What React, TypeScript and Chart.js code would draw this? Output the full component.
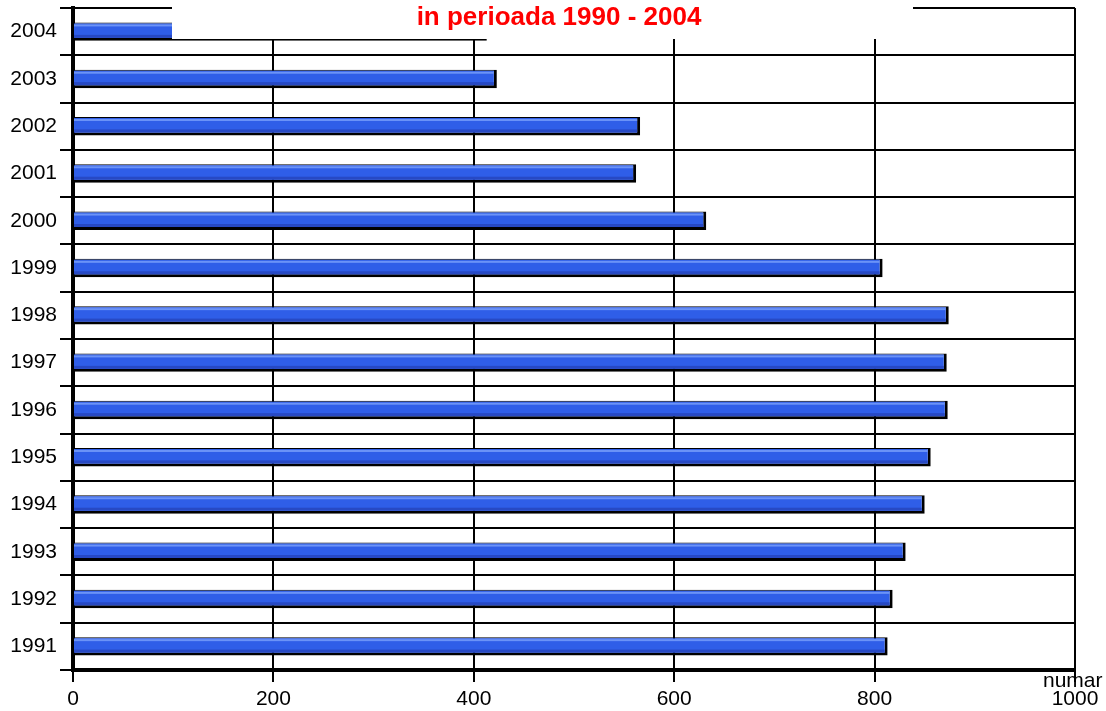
import React, { useEffect, useRef } from "react";
import { Chart, registerables } from "chart.js";

Chart.register(...registerables);

const years = ["1991", "1992", "1993", "1994", "1995", "1996", "1997", "1998", "1999", "2000", "2001", "2002", "2003", "2004"];
const values = [813, 818, 831, 850, 856, 873, 872, 874, 808, 632, 562, 566, 423, 413];
const xTicks = [0, 200, 400, 600, 800, 1000];
const titleText = "in perioada 1990 - 2004";
const axisLabel = "numar";

const FONT = "'Liberation Sans', Arial, sans-serif";

const barShine = {
  id: "barShine",
  afterDatasetsDraw(chart: any) {
    const ctx = chart.ctx;
    const meta = chart.getDatasetMeta(0);
    ctx.save();
    meta.data.forEach((el: any) => {
      const p = el.getProps(["x", "y", "base", "height"], true);
      const left = Math.min(p.base, p.x);
      const w = Math.abs(p.x - p.base) - 3;
      const top = p.y - p.height / 2;
      ctx.fillStyle = "#6b93f7";
      ctx.fillRect(left, top + 2, w, 2);
      ctx.fillStyle = "#2749c4";
      ctx.fillRect(left, top + p.height - 6, w, 3);
    });
    ctx.restore();
  },
};

const titleBox = {
  id: "titleBox",
  afterDraw(chart: any) {
    const ctx = chart.ctx;
    ctx.save();
    ctx.fillStyle = "#ffffff";
    ctx.fillRect(172, 0, 913 - 172, 39);
    ctx.fillStyle = "#ff0000";
    ctx.font = `bold 26px ${FONT}`;
    ctx.textAlign = "center";
    ctx.textBaseline = "alphabetic";
    ctx.fillText(titleText, 559, 25);
    ctx.fillStyle = "#000000";
    ctx.font = `21px ${FONT}`;
    ctx.textAlign = "left";
    ctx.fillText(axisLabel, 1043, 687);
    ctx.restore();
  },
};

export default function App() {
  const ref = useRef<HTMLCanvasElement | null>(null);
  useEffect(() => {
    if (!ref.current) return;
    const chart = new Chart(ref.current, {
      type: "bar",
      data: {
        labels: years,
        datasets: [
          {
            data: values,
            backgroundColor: "#2f5ee8",
            borderColor: "#000000",
            borderWidth: { top: 1, right: 3, bottom: 3, left: 0 } as any,
            borderSkipped: false,
            barPercentage: 0.39,
            categoryPercentage: 1,
          },
        ],
      },
      options: {
        indexAxis: "y",
        responsive: false,
        animation: false,
        layout: { padding: { top: 8, right: 31, bottom: 0, left: 0 } },
        plugins: { legend: { display: false }, title: { display: false }, tooltip: { enabled: false } },
        scales: {
          x: {
            min: 0,
            max: 1000,
            afterBuildTicks: (s: any) => {
              s.ticks = xTicks.map((v) => ({ value: v }));
            },
            afterFit: (s: any) => {
              s.height = 41;
              s.paddingLeft = 0;
              s.paddingRight = 0;
            },
            ticks: {
              color: "#000",
              font: { family: FONT, size: 21 },
              padding: 5,
              maxRotation: 0,
              callback: (v: any) => String(v),
            },
            grid: { color: "#000", lineWidth: 2, tickLength: 12, tickColor: "#000", tickWidth: 2 },
            border: { color: "#000", width: 4 },
          },
          y: {
            reverse: true,
            afterFit: (s: any) => {
              s.width = 73;
              s.paddingTop = 0;
              s.paddingBottom = 0;
            },
            ticks: { color: "#000", font: { family: FONT, size: 21 }, padding: 3 },
            grid: { color: "#000", lineWidth: 2, tickLength: 13, tickColor: "#000", tickWidth: 2, offset: true },
            border: { color: "#000", width: 4 },
          },
        },
      },
      plugins: [barShine, titleBox],
    });
    return () => chart.destroy();
  }, []);
  return (
    <div style={{ position: "fixed", left: 0, top: 0, width: 1106, height: 711, background: "#fff" }}>
      <canvas ref={ref} width={1106} height={711} style={{ width: 1106, height: 711 }} />
    </div>
  );
}
